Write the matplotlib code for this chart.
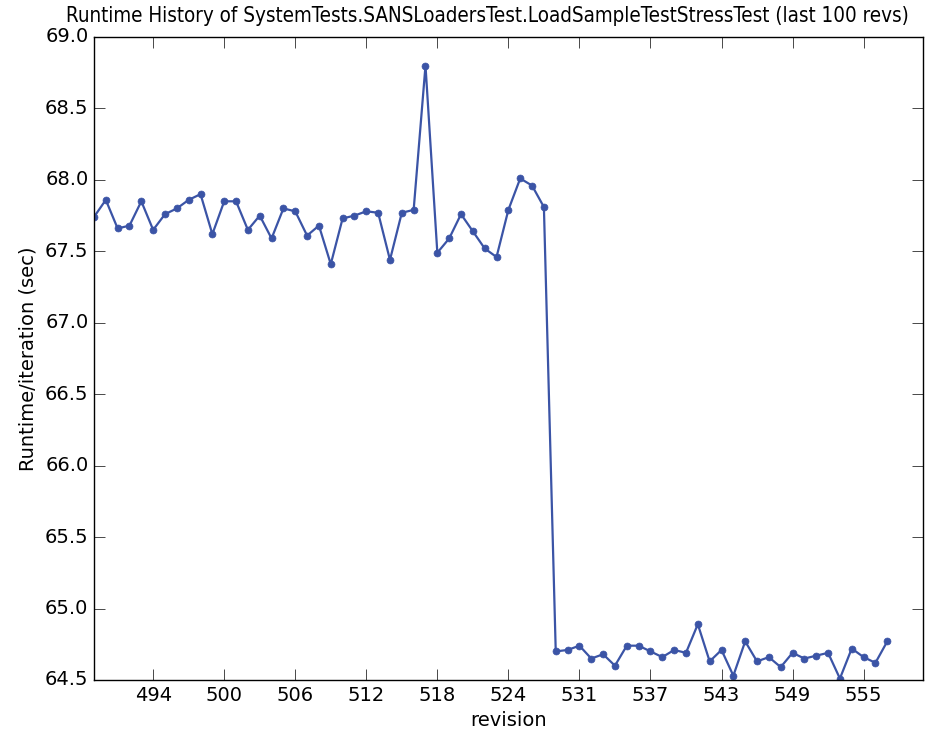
import matplotlib
matplotlib.use("Agg")
import matplotlib.pyplot as plt
import numpy as np

# runtime per iteration (sec), one value per revision
runtime = [
    67.74, 67.86, 67.66, 67.68, 67.85, 67.65, 67.76, 67.80, 67.86, 67.90,
    67.62, 67.85, 67.85, 67.65, 67.75, 67.59, 67.80, 67.78, 67.61, 67.68,
    67.41, 67.73, 67.75, 67.78, 67.77, 67.44, 67.77, 67.79, 68.80, 67.49,
    67.59, 67.76, 67.64, 67.52, 67.46, 67.79, 68.01, 67.96, 67.81,
    64.70, 64.71, 64.74, 64.65, 64.68, 64.60, 64.74, 64.74, 64.70, 64.66,
    64.71, 64.69, 64.89, 64.63, 64.71, 64.53, 64.77, 64.63, 64.66, 64.59,
    64.69, 64.65, 64.67, 64.69, 64.51, 64.72, 64.66, 64.62, 64.77,
]
tick_pos = [5, 11, 17, 23, 29, 35, 41, 47, 53, 59, 65]
tick_labels = ["494", "500", "506", "512", "518", "524", "531", "537", "543", "549", "555"]
y_ticks = [64.5, 65.0, 65.5, 66.0, 66.5, 67.0, 67.5, 68.0, 68.5, 69.0]

plt.style.use("classic")
fig = plt.figure(figsize=(9.34, 7.31), dpi=100, facecolor="white")
ax = fig.add_axes([0.1006, 0.0698, 0.8874, 0.8796])

x = np.arange(len(runtime))
ax.plot(x, runtime, color="#3b54a6", linewidth=1.6, marker="o",
        markersize=5, markeredgecolor="#3b54a6")

ax.set_xlim(0, 70)
ax.set_ylim(64.5, 69.0)
ax.set_xticks(tick_pos)
ax.set_xticklabels(tick_labels)
ax.set_yticks(y_ticks)
ax.set_yticklabels(["%.1f" % v for v in y_ticks])
ax.tick_params(labelsize=14, direction="in", length=8, top=True, right=True)

ax.set_xlabel("revision", fontsize=14)
ax.set_ylabel("Runtime/iteration (sec)", fontsize=14)
ax.set_title("Runtime History of SystemTests.SANSLoadersTest.LoadSampleTestStressTest (last 100 revs)",
             fontsize=14.8, fontstretch="condensed", pad=11, x=0.475)

fig.savefig("out.png", dpi=100, facecolor="white")
